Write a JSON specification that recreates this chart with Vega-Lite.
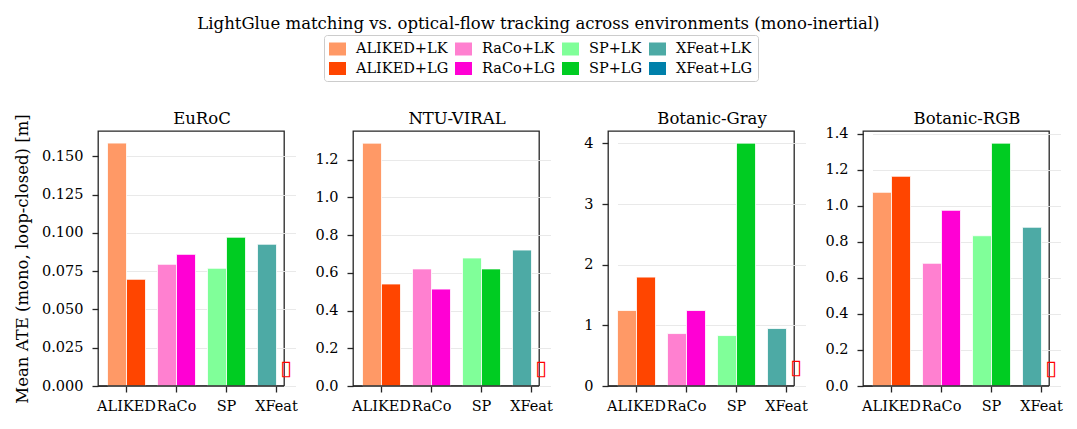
{
  "$schema": "https://vega.github.io/schema/vega-lite/v6.json",
  "background": "white",
  "padding": {"left": 13, "top": 16, "right": 5, "bottom": 5},
  "title": {"text": "LightGlue matching vs. optical-flow tracking across environments (mono-inertial)", "anchor": "middle", "font": "DejaVu Serif", "fontSize": 16.5, "fontWeight": "normal", "color": "#000000", "offset": 2},
  "datasets": {
    "ate": [
      {"env": "EuRoC", "method": "ALIKED", "tracker": "LK", "series": "ALIKED+LK", "ate": 0.1587},
      {"env": "EuRoC", "method": "ALIKED", "tracker": "LG", "series": "ALIKED+LG", "ate": 0.0697},
      {"env": "EuRoC", "method": "RaCo", "tracker": "LK", "series": "RaCo+LK", "ate": 0.0795},
      {"env": "EuRoC", "method": "RaCo", "tracker": "LG", "series": "RaCo+LG", "ate": 0.086},
      {"env": "EuRoC", "method": "SP", "tracker": "LK", "series": "SP+LK", "ate": 0.0769},
      {"env": "EuRoC", "method": "SP", "tracker": "LG", "series": "SP+LG", "ate": 0.0972},
      {"env": "EuRoC", "method": "XFeat", "tracker": "LK", "series": "XFeat+LK", "ate": 0.0926},
      {"env": "EuRoC", "method": "XFeat", "tracker": "LG", "series": "XFeat+LG", "ate": null},
      {"env": "NTU-VIRAL", "method": "ALIKED", "tracker": "LK", "series": "ALIKED+LK", "ate": 1.288},
      {"env": "NTU-VIRAL", "method": "ALIKED", "tracker": "LG", "series": "ALIKED+LG", "ate": 0.541},
      {"env": "NTU-VIRAL", "method": "RaCo", "tracker": "LK", "series": "RaCo+LK", "ate": 0.621},
      {"env": "NTU-VIRAL", "method": "RaCo", "tracker": "LG", "series": "RaCo+LG", "ate": 0.514},
      {"env": "NTU-VIRAL", "method": "SP", "tracker": "LK", "series": "SP+LK", "ate": 0.679},
      {"env": "NTU-VIRAL", "method": "SP", "tracker": "LG", "series": "SP+LG", "ate": 0.621},
      {"env": "NTU-VIRAL", "method": "XFeat", "tracker": "LK", "series": "XFeat+LK", "ate": 0.721},
      {"env": "NTU-VIRAL", "method": "XFeat", "tracker": "LG", "series": "XFeat+LG", "ate": null},
      {"env": "Botanic-Gray", "method": "ALIKED", "tracker": "LK", "series": "ALIKED+LK", "ate": 1.245},
      {"env": "Botanic-Gray", "method": "ALIKED", "tracker": "LG", "series": "ALIKED+LG", "ate": 1.796},
      {"env": "Botanic-Gray", "method": "RaCo", "tracker": "LK", "series": "RaCo+LK", "ate": 0.865},
      {"env": "Botanic-Gray", "method": "RaCo", "tracker": "LG", "series": "RaCo+LG", "ate": 1.245},
      {"env": "Botanic-Gray", "method": "SP", "tracker": "LK", "series": "SP+LK", "ate": 0.832},
      {"env": "Botanic-Gray", "method": "SP", "tracker": "LG", "series": "SP+LG", "ate": 4.006},
      {"env": "Botanic-Gray", "method": "XFeat", "tracker": "LK", "series": "XFeat+LK", "ate": 0.948},
      {"env": "Botanic-Gray", "method": "XFeat", "tracker": "LG", "series": "XFeat+LG", "ate": null},
      {"env": "Botanic-RGB", "method": "ALIKED", "tracker": "LK", "series": "ALIKED+LK", "ate": 1.075},
      {"env": "Botanic-RGB", "method": "ALIKED", "tracker": "LG", "series": "ALIKED+LG", "ate": 1.164},
      {"env": "Botanic-RGB", "method": "RaCo", "tracker": "LK", "series": "RaCo+LK", "ate": 0.681},
      {"env": "Botanic-RGB", "method": "RaCo", "tracker": "LG", "series": "RaCo+LG", "ate": 0.975},
      {"env": "Botanic-RGB", "method": "SP", "tracker": "LK", "series": "SP+LK", "ate": 0.834},
      {"env": "Botanic-RGB", "method": "SP", "tracker": "LG", "series": "SP+LG", "ate": 1.348},
      {"env": "Botanic-RGB", "method": "XFeat", "tracker": "LK", "series": "XFeat+LK", "ate": 0.881},
      {"env": "Botanic-RGB", "method": "XFeat", "tracker": "LG", "series": "XFeat+LG", "ate": null}
    ]
  },
  "data": {"name": "ate"},
  "bounds": "flush",
  "spacing": 69,
  "hconcat": [
    {
      "width": 186, "height": 255,
      "transform": [{"filter": "datum.env === 'EuRoC'"}],
      "resolve": {"axis": {"x": "independent"}},
      "layer": [
        {
          "mark": {"type": "bar", "stroke": "white", "strokeWidth": 0.8},
          "encoding": {
            "x": {"field": "method", "type": "nominal", "sort": ["ALIKED", "RaCo", "SP", "XFeat"], "scale": {"range": [9.5, 197.5], "paddingInner": 0.24, "paddingOuter": 0}, "axis": {"orient": "bottom"}, "title": null},
            "xOffset": {"field": "tracker", "type": "nominal", "scale": {"domain": ["LK", "LG"], "paddingInner": 0, "paddingOuter": 0}},
            "y": {"field": "ate", "type": "quantitative", "scale": {"domain": [0, 0.1666], "nice": false}, "axis": {"values": [0, 0.025, 0.05, 0.075, 0.1, 0.125, 0.15], "tickCount": 12, "format": ".3f", "labelOverlap": false}, "title": "Mean ATE (mono, loop-closed) [m]"},
            "color": {"field": "series", "type": "nominal", "scale": {"domain": ["ALIKED+LK", "RaCo+LK", "SP+LK", "XFeat+LK", "ALIKED+LG", "RaCo+LG", "SP+LG", "XFeat+LG"], "range": ["#ff9966", "#ff80d0", "#80ff99", "#4daaa5", "#ff4500", "#ff00d4", "#00cc22", "#0080aa"]}, "legend": {"title": null, "orient": "none", "legendX": 226, "legendY": -96, "columns": 4, "direction": "horizontal", "symbolType": "M-1,-0.765H1V0.765H-1Z", "symbolSize": 289, "symbolStrokeWidth": 0, "symbolOffset": 0, "labelOffset": 10, "labelFont": "DejaVu Serif", "labelFontSize": 14.5, "labelColor": "#000000", "columnPadding": 6, "rowPadding": 4, "padding": 5, "strokeColor": "#cccccc", "fillColor": "white", "cornerRadius": 3}}
          }
        },
        {
          "transform": [{"filter": "datum.ate === null"}],
          "mark": {"type": "rule", "color": "#262626", "strokeWidth": 1.3},
          "encoding": {"y": {"datum": 0}}
        },
        {
          "transform": [{"filter": "datum.ate === null"}],
          "mark": {"type": "text", "text": "▯", "color": "red", "font": "DejaVu Sans", "fontSize": 21, "baseline": "middle"},
          "encoding": {
            "x": {"field": "method", "type": "nominal", "sort": ["ALIKED", "RaCo", "SP", "XFeat"], "axis": {"orient": "top", "labels": false, "ticks": false, "domain": false, "grid": false, "titlePadding": 5}, "title": "EuRoC"},
            "xOffset": {"field": "tracker", "type": "nominal"},
            "y": {"datum": 0.0114}
          }
        }
      ]
    },
    {
      "width": 186, "height": 255,
      "transform": [{"filter": "datum.env === 'NTU-VIRAL'"}],
      "resolve": {"axis": {"x": "independent"}},
      "layer": [
        {
          "mark": {"type": "bar", "stroke": "white", "strokeWidth": 0.8},
          "encoding": {
            "x": {"field": "method", "type": "nominal", "sort": ["ALIKED", "RaCo", "SP", "XFeat"], "scale": {"range": [9.5, 197.5], "paddingInner": 0.24, "paddingOuter": 0}, "axis": {"orient": "bottom"}, "title": null},
            "xOffset": {"field": "tracker", "type": "nominal", "scale": {"domain": ["LK", "LG"], "paddingInner": 0, "paddingOuter": 0}},
            "y": {"field": "ate", "type": "quantitative", "scale": {"domain": [0, 1.3524], "nice": false}, "axis": {"values": [0, 0.2, 0.4, 0.6, 0.8, 1.0, 1.2], "tickCount": 12, "format": ".1f", "labelOverlap": false}, "title": null},
            "color": {"field": "series", "type": "nominal"}
          }
        },
        {
          "transform": [{"filter": "datum.ate === null"}],
          "mark": {"type": "rule", "color": "#262626", "strokeWidth": 1.3},
          "encoding": {"y": {"datum": 0}}
        },
        {
          "transform": [{"filter": "datum.ate === null"}],
          "mark": {"type": "text", "text": "▯", "color": "red", "font": "DejaVu Sans", "fontSize": 21, "baseline": "middle"},
          "encoding": {
            "x": {"field": "method", "type": "nominal", "sort": ["ALIKED", "RaCo", "SP", "XFeat"], "axis": {"orient": "top", "labels": false, "ticks": false, "domain": false, "grid": false, "titlePadding": 5}, "title": "NTU-VIRAL"},
            "xOffset": {"field": "tracker", "type": "nominal"},
            "y": {"datum": 0.0928}
          }
        }
      ]
    },
    {
      "width": 186, "height": 255,
      "transform": [{"filter": "datum.env === 'Botanic-Gray'"}],
      "resolve": {"axis": {"x": "independent"}},
      "layer": [
        {
          "mark": {"type": "bar", "stroke": "white", "strokeWidth": 0.8},
          "encoding": {
            "x": {"field": "method", "type": "nominal", "sort": ["ALIKED", "RaCo", "SP", "XFeat"], "scale": {"range": [9.5, 197.5], "paddingInner": 0.24, "paddingOuter": 0}, "axis": {"orient": "bottom"}, "title": null},
            "xOffset": {"field": "tracker", "type": "nominal", "scale": {"domain": ["LK", "LG"], "paddingInner": 0, "paddingOuter": 0}},
            "y": {"field": "ate", "type": "quantitative", "scale": {"domain": [0, 4.206], "nice": false}, "axis": {"values": [0, 1, 2, 3, 4], "tickCount": 12, "format": "d", "labelOverlap": false}, "title": null},
            "color": {"field": "series", "type": "nominal"}
          }
        },
        {
          "transform": [{"filter": "datum.ate === null"}],
          "mark": {"type": "rule", "color": "#262626", "strokeWidth": 1.3},
          "encoding": {"y": {"datum": 0}}
        },
        {
          "transform": [{"filter": "datum.ate === null"}],
          "mark": {"type": "text", "text": "▯", "color": "red", "font": "DejaVu Sans", "fontSize": 21, "baseline": "middle"},
          "encoding": {
            "x": {"field": "method", "type": "nominal", "sort": ["ALIKED", "RaCo", "SP", "XFeat"], "axis": {"orient": "top", "labels": false, "ticks": false, "domain": false, "grid": false, "titlePadding": 5}, "title": "Botanic-Gray"},
            "xOffset": {"field": "tracker", "type": "nominal"},
            "y": {"datum": 0.289}
          }
        }
      ]
    },
    {
      "width": 186, "height": 255,
      "transform": [{"filter": "datum.env === 'Botanic-RGB'"}],
      "resolve": {"axis": {"x": "independent"}},
      "layer": [
        {
          "mark": {"type": "bar", "stroke": "white", "strokeWidth": 0.8},
          "encoding": {
            "x": {"field": "method", "type": "nominal", "sort": ["ALIKED", "RaCo", "SP", "XFeat"], "scale": {"range": [9.5, 197.5], "paddingInner": 0.24, "paddingOuter": 0}, "axis": {"orient": "bottom"}, "title": null},
            "xOffset": {"field": "tracker", "type": "nominal", "scale": {"domain": ["LK", "LG"], "paddingInner": 0, "paddingOuter": 0}},
            "y": {"field": "ate", "type": "quantitative", "scale": {"domain": [0, 1.4154], "nice": false}, "axis": {"values": [0, 0.2, 0.4, 0.6, 0.8, 1.0, 1.2, 1.4], "tickCount": 12, "format": ".1f", "labelOverlap": false}, "title": null},
            "color": {"field": "series", "type": "nominal"}
          }
        },
        {
          "transform": [{"filter": "datum.ate === null"}],
          "mark": {"type": "rule", "color": "#262626", "strokeWidth": 1.3},
          "encoding": {"y": {"datum": 0}}
        },
        {
          "transform": [{"filter": "datum.ate === null"}],
          "mark": {"type": "text", "text": "▯", "color": "red", "font": "DejaVu Sans", "fontSize": 21, "baseline": "middle"},
          "encoding": {
            "x": {"field": "method", "type": "nominal", "sort": ["ALIKED", "RaCo", "SP", "XFeat"], "axis": {"orient": "top", "labels": false, "ticks": false, "domain": false, "grid": false, "titlePadding": 5}, "title": "Botanic-RGB"},
            "xOffset": {"field": "tracker", "type": "nominal"},
            "y": {"datum": 0.0971}
          }
        }
      ]
    }
  ],
  "resolve": {"scale": {"y": "independent", "x": "independent", "xOffset": "independent"}},
  "config": {
    "font": "DejaVu Serif",
    "view": {"stroke": "#262626", "strokeWidth": 1.3},
    "title": {"font": "DejaVu Serif", "fontSize": 16.5, "fontWeight": "normal", "color": "#000000"},
    "axis": {"labelFont": "DejaVu Serif", "labelFontSize": 14.5, "labelColor": "#000000", "tickColor": "#262626", "tickSize": 6, "tickWidth": 1.3, "domain": false, "titleFont": "DejaVu Serif", "titleFontSize": 16.5, "titleFontWeight": "normal", "titleColor": "#000000", "labelOverlap": false, "labelBound": false, "labelFlush": false},
    "axisX": {"grid": false, "labelAngle": 0, "labelPadding": 7},
    "axisY": {"grid": true, "gridColor": "#e6e6e6", "gridWidth": 0.9, "labelPadding": 9, "titlePadding": 11}
  }
}
